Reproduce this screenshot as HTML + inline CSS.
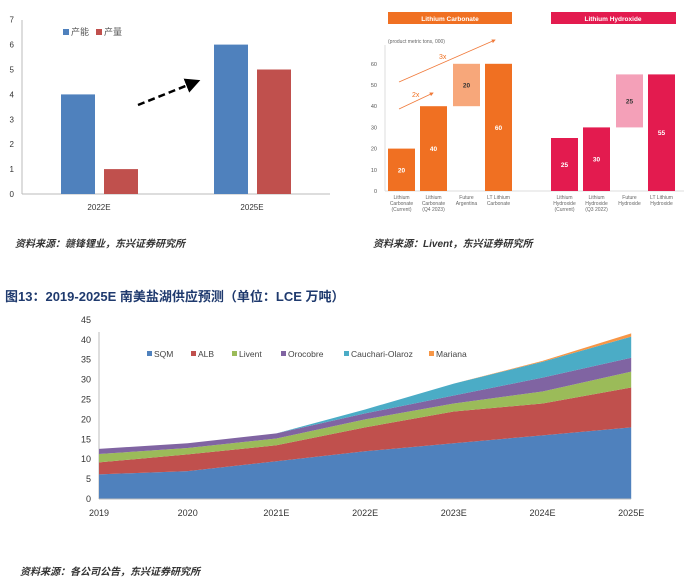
<!DOCTYPE html>
<html><head><meta charset="utf-8"><style>
body{margin:0;background:#fff;width:700px;height:579px;overflow:hidden;font-family:"Liberation Sans","Noto Sans CJK SC",sans-serif}
svg{position:absolute;left:0;top:0}
</style></head><body>
<svg id="s" width="700" height="579">
<defs><marker id="ah" markerWidth="6" markerHeight="6" refX="5" refY="3" orient="auto"><path d="M0,0 L6,3 L0,6 Z" fill="#000"/></marker>
<marker id="ao" markerWidth="5" markerHeight="5" refX="4" refY="2.5" orient="auto"><path d="M0,0 L5,2.5 L0,5 Z" fill="#f07a3a"/></marker></defs>
<g id="c1"></g>
<g id="c2"></g>
<g id="c3"></g>
<text x="15" y="247" font-size="10" font-style="italic" font-weight="bold" fill="#333">资料来源：赣锋锂业，东兴证券研究所</text>
<text x="373" y="247" font-size="10" font-style="italic" font-weight="bold" fill="#333">资料来源：Livent，东兴证券研究所</text>
<text x="5" y="301" font-size="13" font-weight="bold" fill="#1f3a6e">图13：2019-2025E 南美盐湖供应预测（单位：LCE 万吨）</text>
<text x="20" y="575" font-size="10" font-style="italic" font-weight="bold" fill="#333">资料来源：各公司公告，东兴证券研究所</text>
</svg>
<script>
const NS="http://www.w3.org/2000/svg";
function mk(p,t,a,txt){const e=document.createElementNS(NS,t);for(const k in a)e.setAttribute(k,a[k]);if(txt!==undefined)e.textContent=txt;p.appendChild(e);return e;}
// Chart 1
const c1Cats=["2022E","2025E"];
const c1Capacity=[4,6];
const c1Output=[1,5];
const c1Ticks=[0,1,2,3,4,5,6,7];
// Chart 2
const c2Cats=[["Lithium","Carbonate","(Current)"],["Lithium","Carbonate","(Q4 2023)"],["Future","Argentina"],["LT Lithium","Carbonate"],["Lithium","Hydroxide","(Current)"],["Lithium","Hydroxide","(Q3 2022)"],["Future","Hydroxide"],["LT Lithium","Hydroxide"]];
const c2Base=[0,0,40,0,0,0,30,0];
const c2Vals=[20,40,20,60,25,30,25,55];
const c2Ticks=[0,10,20,30,40,50,60];
// Chart 3
const c3Years=["2019","2020","2021E","2022E","2023E","2024E","2025E"];
const sqm=[6.2,7.0,9.5,12,14,16,18];
const alb=[3.0,4.2,4.0,6,8,8,10];
const livent=[2.1,1.6,1.7,2,2,3,4];
const orocobre=[1.3,1.2,1.3,1.5,2,3.5,3.5];
const cauchari=[0,0,0,1,3,4,5.3];
const mariana=[0,0,0,0,0,0.2,0.8];
const c3Ticks=[0,5,10,15,20,25,30,35,40,45];

(function(){
 const g=document.getElementById('c1');
 const y=v=>194-v*24.9, x0=[61,214];
 mk(g,'line',{x1:22,y1:20,x2:22,y2:194,stroke:'#bbb'});
 mk(g,'line',{x1:22,y1:194,x2:330,y2:194,stroke:'#bbb'});
 c1Ticks.forEach(t=>{const e=mk(g,'text',{x:14,y:y(t)+3,'font-size':8,'text-anchor':'end',fill:'#333'},t);
 
 });
 c1Cats.forEach((c,i)=>{
  let b=mk(g,'rect',{x:x0[i],y:y(c1Capacity[i]),width:34,height:c1Capacity[i]*24.9,fill:'#4f81bd'});
  
  
  b=mk(g,'rect',{x:x0[i]+43,y:y(c1Output[i]),width:34,height:c1Output[i]*24.9,fill:'#c0504d'});
  
  
  const l=mk(g,'text',{x:x0[i]+38,y:210,'font-size':8,'text-anchor':'middle',fill:'#333'},c);
  
  
 });
 mk(g,'rect',{x:63,y:29,width:6,height:6,fill:'#4f81bd'});mk(g,'text',{x:71,y:35,'font-size':9,fill:'#555'},'产能');
 mk(g,'rect',{x:96,y:29,width:6,height:6,fill:'#c0504d'});mk(g,'text',{x:104,y:35,'font-size':9,fill:'#555'},'产量');
 const a=mk(g,'line',{x1:138,y1:105,x2:198,y2:81,stroke:'#000','stroke-width':2.5,'stroke-dasharray':'7,4','marker-end':'url(#ah)'});
 
 
})();

(function(){
 const g=document.getElementById('c2');
 const y=v=>191-v*2.12, xs=[388,420,453,485,551,583,616,648];
 const cols=['#f07022','#f07022','#f7a77a','#f07022','#e31b4f','#e31b4f','#f4a0b8','#e31b4f'];
 mk(g,'rect',{x:388,y:12,width:124,height:12,fill:'#f07022'});
 mk(g,'text',{x:450,y:21,'font-size':6.5,'font-weight':'bold','text-anchor':'middle',fill:'#fff'},'Lithium Carbonate');
 mk(g,'rect',{x:551,y:12,width:125,height:12,fill:'#e31b4f'});
 mk(g,'text',{x:613,y:21,'font-size':6.5,'font-weight':'bold','text-anchor':'middle',fill:'#fff'},'Lithium Hydroxide');
 mk(g,'text',{x:388,y:43,'font-size':5,fill:'#666'},'(product metric tons, 000)');
 mk(g,'line',{x1:385,y1:45,x2:385,y2:191,stroke:'#ddd'});
 mk(g,'line',{x1:385,y1:191,x2:684,y2:191,stroke:'#ddd'});
 c2Ticks.forEach(t=>{const e=mk(g,'text',{x:377,y:y(t)+2,'font-size':5.5,'text-anchor':'end',fill:'#555'},t);
 
 });
 c2Vals.forEach((v,i)=>{
  const r=mk(g,'rect',{x:xs[i],y:y(c2Base[i]+v),width:27,height:v*2.12,fill:cols[i]});
  
  
  mk(g,'text',{x:xs[i]+13.5,y:y(c2Base[i]+v/2)+2.5,'font-size':6.5,'font-weight':'bold','text-anchor':'middle',fill:(i==2||i==6)?'#333':'#fff'},v);
  c2Cats[i].forEach((s,j)=>mk(g,'text',{x:xs[i]+13.5,y:199+j*6,'font-size':5,'text-anchor':'middle',fill:'#666'},s));
 });
 mk(g,'line',{x1:399,y1:109,x2:433,y2:93,stroke:'#f07a3a','stroke-width':0.8,'marker-end':'url(#ao)'});
 mk(g,'text',{x:412,y:97,'font-size':7,fill:'#f07022'},'2x');
 mk(g,'line',{x1:399,y1:82,x2:495,y2:40,stroke:'#f07a3a','stroke-width':0.8,'marker-end':'url(#ao)'});
 mk(g,'text',{x:439,y:59,'font-size':7,fill:'#f07022'},'3x');
})();

(function(){
 const g=document.getElementById('c3');
 const X=i=>99+i*88.7, Y=v=>499-v*3.98;
 const series=[[sqm,'#4f81bd','SQM'],[alb,'#c0504d','ALB'],[livent,'#9bbb59','Livent'],[orocobre,'#8064a2','Orocobre'],[cauchari,'#4bacc6','Cauchari-Olaroz'],[mariana,'#f79646','Mariana']];
 mk(g,'line',{x1:99,y1:332,x2:99,y2:499,stroke:'#bbb'});
 c3Ticks.forEach(t=>{const e=mk(g,'text',{x:91,y:Y(t)+3,'font-size':9,'text-anchor':'end',fill:'#333'},t);
 
 });
 let cum=c3Years.map(()=>0);
 series.forEach(([d,col,n])=>{
  const lo=cum.slice(); cum=cum.map((c,i)=>c+d[i]);
  let p=cum.map((v,i)=>(i?'L':'M')+X(i)+','+Y(v)).join('');
  for(let i=lo.length-1;i>=0;i--)p+='L'+X(i)+','+Y(lo[i]);
  const e=mk(g,'path',{d:p+'Z',fill:col});
  
  
 });
 mk(g,'line',{x1:99,y1:499,x2:631,y2:499,stroke:'#bbb'});
 c3Years.forEach((s,i)=>{const e=mk(g,'text',{x:X(i),y:516,'font-size':9,'text-anchor':'middle',fill:'#333'},s);
 
 });
 const lx=[147,191,232,281,344,429];
 series.forEach(([d,col,n],i)=>{
  mk(g,'rect',{x:lx[i],y:351,width:5,height:5,fill:col});
  const e=mk(g,'text',{x:lx[i]+7,y:357,'font-size':8.5,fill:'#444'},n);
  
  
 });
})();
</script>
</body></html>
